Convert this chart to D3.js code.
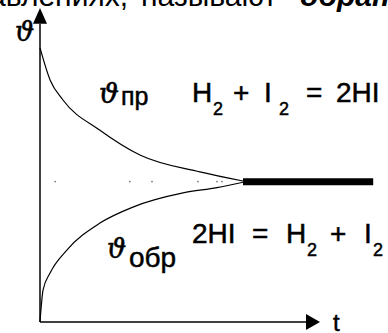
<!DOCTYPE html>
<html>
<head>
<meta charset="utf-8">
<script src="https://cdn.jsdelivr.net/npm/d3@7"></script>
<style>
  html, body { margin: 0; padding: 0; background: #fff; }
  svg { display: block; }
  text { font-family: "Liberation Sans", Arial, sans-serif; fill: #000; }
  text.ink { stroke: #000; stroke-width: 0.5; }
</style>
</head>
<body>
<script>
// Rate curves (arbitrary units)
const forwardT = [0, 0.36, 0.82, 2.14, 3.57, 5.71, 7.25];
const forwardV = [8.73, 7.71, 7.07, 6.11, 5.32, 4.78, 4.49];
const reverseT = [0, 0.11, 0.36, 0.96, 2.14, 3.32, 5.11, 6.32, 7.25];
const reverseV = [0, 1.02, 1.56, 2.29, 3.15, 3.66, 4.11, 4.28, 4.45];
const equilibriumT = [7.25, 11.9];
const equilibriumV = 4.47;
const dotT = [0.54, 3.21, 4.0, 5.64, 6.32, 6.5];

const W = 388, H = 333;
const x = d3.scaleLinear().domain([0, 10]).range([40, 320]);
const y = d3.scaleLinear().domain([0, 10]).range([322, 8]);

const svg = d3.select('body').append('svg')
  .attr('width', W).attr('height', H);

// cut-off line of book text above the figure
const headY = 6;
svg.append('text').attr('x', 128).attr('y', headY)
  .attr('text-anchor', 'end').style('font-size', '30px')
  .text('направлениях,');
svg.append('text').attr('x', 141).attr('y', headY)
  .style('font-size', '30px')
  .text('называют');
svg.append('text').attr('x', 300).attr('y', headY)
  .style('font-size', '30px').style('font-weight', 'bold').style('font-style', 'italic')
  .text('обратимыми');

// dotted guide at the equilibrium level
svg.append('g').selectAll('circle')
  .data(dotT)
  .join('circle')
  .attr('cx', d => x(d))
  .attr('cy', y(equilibriumV))
  .attr('r', 0.8)
  .attr('fill', '#666');

// axes
svg.append('line')
  .attr('x1', x(0)).attr('y1', y(0))
  .attr('x2', x(0)).attr('y2', y(9.5))
  .attr('stroke', '#000').attr('stroke-width', 1.5);
svg.append('line')
  .attr('x1', x(0)).attr('y1', y(0))
  .attr('x2', x(9.5)).attr('y2', y(0))
  .attr('stroke', '#000').attr('stroke-width', 1.5);

// arrow heads
svg.append('path')
  .attr('d', `M${x(0)},${y(10)} L${x(0) - 7},${y(9.5)} L${x(0) + 7},${y(9.5)} Z`)
  .attr('fill', '#000');
svg.append('path')
  .attr('d', `M${x(10)},${y(0)} L${x(9.5)},${y(0) - 8} L${x(9.5)},${y(0) + 8} Z`)
  .attr('fill', '#000');

// curves
const line = d3.line()
  .x(d => x(d[0]))
  .y(d => y(d[1]))
  .curve(d3.curveMonotoneX);

svg.append('path')
  .attr('d', line(d3.zip(forwardT, forwardV)))
  .attr('fill', 'none').attr('stroke', '#000').attr('stroke-width', 1.2);
svg.append('path')
  .attr('d', line(d3.zip(reverseT, reverseV)))
  .attr('fill', 'none').attr('stroke', '#000').attr('stroke-width', 1.2);

// equilibrium (thick)
svg.append('line')
  .attr('x1', x(equilibriumT[0])).attr('x2', x(equilibriumT[1]))
  .attr('y1', y(equilibriumV)).attr('y2', y(equilibriumV))
  .attr('stroke', '#000').attr('stroke-width', 7);

// labels
const sym = '"DejaVu Serif", serif';

svg.append('text').attr('class', 'ink')
  .attr('x', 15).attr('y', 41)
  .style('font-family', sym).style('font-style', 'italic').style('font-size', '27px')
  .text('ϑ');

svg.append('text').attr('class', 'ink')
  .attr('x', 333).attr('y', 331)
  .style('font-size', '24px')
  .text('t');

// forward label
svg.append('text').attr('class', 'ink').attr('x', 99).attr('y', 103)
  .style('font-family', sym).style('font-style', 'italic').style('font-size', '28px')
  .text('ϑ');
svg.append('text').attr('class', 'ink').attr('x', 121).attr('y', 105)
  .style('font-size', '25px').text('пр');

// pieces of an equation placed one by one, as in the drawing
function equation(pieces, baseline) {
  const g = svg.append('g');
  g.selectAll('text')
    .data(pieces)
    .join('text')
    .attr('class', 'ink')
    .attr('x', d => d.x)
    .attr('y', d => d.sub ? baseline + 13 : baseline)
    .style('font-size', d => d.sub ? '18px' : '28px')
    .text(d => d.s);
}

equation([
  { s: 'H', x: 192 }, { s: '2', x: 213, sub: true },
  { s: '+', x: 233 },
  { s: 'I', x: 264 }, { s: '2', x: 279, sub: true },
  { s: '=', x: 306 },
  { s: '2HI', x: 336 }
], 102);

// reverse label
svg.append('text').attr('class', 'ink').attr('x', 107).attr('y', 258)
  .style('font-family', sym).style('font-style', 'italic').style('font-size', '27px')
  .text('ϑ');
svg.append('text').attr('class', 'ink').attr('x', 129).attr('y', 267)
  .style('font-size', '28px').text('обр');

equation([
  { s: '2HI', x: 192 },
  { s: '=', x: 252 },
  { s: 'H', x: 286 }, { s: '2', x: 307, sub: true },
  { s: '+', x: 330 },
  { s: 'I', x: 364 }, { s: '2', x: 373, sub: true }
], 243);
</script>
</body>
</html>
